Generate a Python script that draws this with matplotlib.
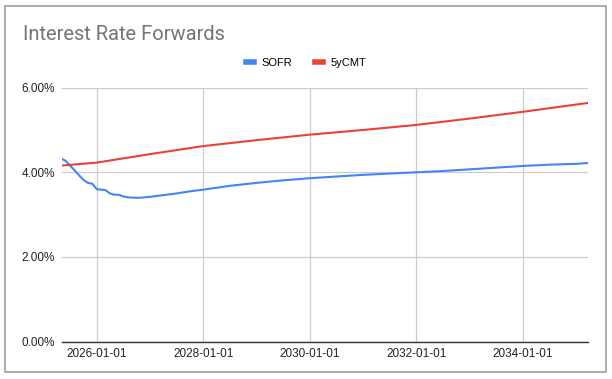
import matplotlib
matplotlib.use('Agg')
import matplotlib.pyplot as plt
import matplotlib.dates as mdates
from matplotlib.lines import Line2D
from matplotlib.patches import Rectangle
from matplotlib.ticker import FuncFormatter
import numpy as np

plt.rcParams['font.family'] = ['Liberation Sans', 'DejaVu Sans']

# SOFR forward curve (%)
sofr_dates = ['2025-05-05', '2025-06-01', '2025-07-01', '2025-08-01', '2025-09-01',
              '2025-10-01', '2025-11-01', '2025-12-01', '2026-01-01', '2026-02-01',
              '2026-03-01', '2026-04-01', '2026-05-01', '2026-06-01', '2026-07-01',
              '2026-08-01', '2026-09-01', '2026-10-01', '2026-11-01', '2026-12-01',
              '2027-01-01', '2027-04-01', '2027-07-01', '2027-10-01', '2028-01-01',
              '2028-07-01', '2029-01-01', '2029-07-01', '2030-01-01', '2030-07-01',
              '2031-01-01', '2031-07-01', '2032-01-01', '2032-07-01', '2033-01-01',
              '2033-07-01', '2034-01-01', '2034-07-01', '2035-01-01', '2035-03-25']
sofr = [4.32, 4.27, 4.16, 4.05, 3.93,
        3.82, 3.75, 3.73, 3.60, 3.59,
        3.58, 3.50, 3.47, 3.47, 3.43,
        3.41, 3.40, 3.40, 3.40, 3.41,
        3.42, 3.46, 3.50, 3.55, 3.59,
        3.68, 3.75, 3.81, 3.86, 3.90,
        3.94, 3.97, 4.00, 4.03, 4.07,
        4.11, 4.15, 4.18, 4.20, 4.22]

# 5y CMT forward curve (%)
cmt_dates = ['2025-05-05', '2026-01-01', '2027-01-01', '2028-01-01', '2029-01-01',
             '2030-01-01', '2031-01-01', '2032-01-01', '2033-01-01', '2034-01-01',
             '2035-03-25']
cmt = [4.16, 4.23, 4.43, 4.62, 4.76, 4.89, 5.00, 5.12, 5.27, 5.43, 5.64]

y_ticks = [0, 2, 4, 6]
x_ticks = ['2026-01-01', '2028-01-01', '2030-01-01', '2032-01-01', '2034-01-01']

blue = '#4285F4'
red = '#EA4335'

fig = plt.figure(figsize=(6.12, 3.79), dpi=100)
fig.patches.append(Rectangle((5 / 612, 7 / 379), 601 / 612, 366 / 379,
                             transform=fig.transFigure, fill=False,
                             edgecolor='#9e9e9e', linewidth=1.2))

ax = fig.add_axes([0.1008, 0.0989, 0.8600, 0.6697])
sd = np.array(sofr_dates, dtype='datetime64[D]')
cd = np.array(cmt_dates, dtype='datetime64[D]')
ax.plot(sd, sofr, color=blue, linewidth=1.5, solid_joinstyle='round')
ax.plot(cd, cmt, color=red, linewidth=1.5, solid_joinstyle='round')

ax.set_xlim(sd[0], sd[-1])
ax.set_ylim(0, 6)
ax.set_yticks(y_ticks)
ax.yaxis.set_major_formatter(FuncFormatter(lambda v, p: '{:.2f}%'.format(v)))
ax.set_xticks(np.array(x_ticks, dtype='datetime64[D]'))
ax.xaxis.set_major_formatter(mdates.DateFormatter('%Y-%m-%d'))

ax.grid(True, color='#cccccc', linewidth=0.9)
ax.set_axisbelow(True)
for s in ['top', 'right', 'left']:
    ax.spines[s].set_visible(False)
ax.spines['bottom'].set_color('#333333')
ax.spines['bottom'].set_linewidth(1.0)
ax.spines['bottom'].set_zorder(3)
ax.tick_params(length=0, labelsize=8.5, colors='#222222', pad=5)

fig.text(0.0376, 0.908, 'Interest Rate Forwards', fontsize=14.5, color='#757575',
         family=['Roboto', 'DejaVu Sans'], va='center', ha='left')

handles = [Line2D([0], [0], color=blue, linewidth=4),
           Line2D([0], [0], color=red, linewidth=4)]
fig.legend(handles, ['SOFR', '5yCMT'], loc='center', bbox_to_anchor=(0.5, 1 - 63 / 379),
           ncol=2, frameon=False, fontsize=8, handlelength=0.75, handletextpad=0.7,
           columnspacing=2.0)

fig.savefig('out.png', dpi=100)
